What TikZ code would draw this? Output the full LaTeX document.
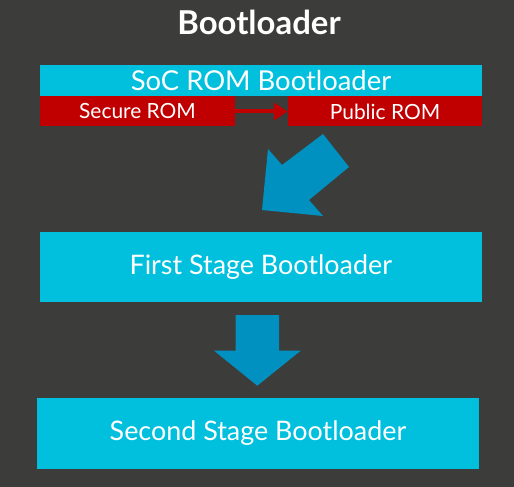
\documentclass[tikz,border=0pt]{standalone}
\usepackage{fontspec}
\setmainfont{Lato}
\usetikzlibrary{arrows.meta}
\definecolor{bg}{RGB}{60,60,58}
\definecolor{cyanbox}{RGB}{0,192,222}
\definecolor{redbox}{RGB}{192,0,0}
\definecolor{arrowblue}{RGB}{0,145,192}
\tikzset{
  cbox/.style={fill=cyanbox, draw=none, text=white, inner sep=0pt},
  rbox/.style={fill=redbox, draw=none, text=white, inner sep=0pt, font=\fontsize{21}{24}\selectfont},
  blockarrow/.style={fill=arrowblue, draw=none},
}
\begin{document}
\begin{tikzpicture}[x=1bp,y=-1bp]
\fill[bg] (0,0) rectangle (514,487);
\useasboundingbox (0,0) rectangle (514,487);
\node[text=white, font=\fontsize{33}{36}\selectfont\bfseries] (title) at (259,22) {Bootloader};
\node[cbox, minimum width=442bp, minimum height=31bp, font=\fontsize{27.5}{30}\selectfont] (soc) at (261,80.5) {SoC ROM Bootloader};
\node[rbox, minimum width=195bp, minimum height=30bp] (secure) at (137.5,111.5) {Secure ROM};
\node[rbox, minimum width=194bp, minimum height=30bp] (public) at (385,111.5) {Public ROM};
\node[cbox, minimum width=442bp, minimum height=70bp, font=\fontsize{27}{30}\selectfont] (first) at (260.8,267) {First Stage Bootloader};
\node[cbox, minimum width=442bp, minimum height=71bp, font=\fontsize{27}{30}\selectfont] (second) at (258,433.5) {Second Stage Bootloader};
\draw[redbox, line width=4bp, -{Triangle[length=14bp,width=17bp]}] (secure.east) -- (public.west);
\fill[blockarrow] (262,210) -- (268,149) -- (282,165) -- (323,134) -- (349,167) -- (309,200) -- (323,216) -- cycle;
\fill[blockarrow] (235.7,315) -- (279,315) -- (279,350.7) -- (300.7,350.7) -- (257.3,385.7) -- (214,350.7) -- (235.7,350.7) -- cycle;
\end{tikzpicture}
\end{document}
